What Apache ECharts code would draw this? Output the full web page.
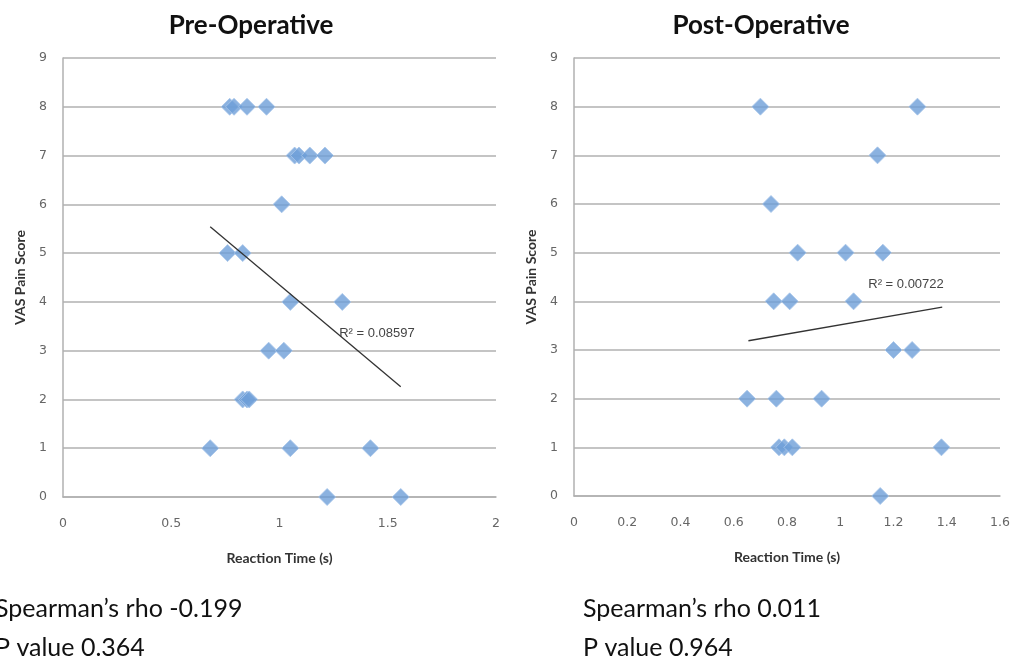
<!DOCTYPE html>
<html>
<head>
<meta charset="utf-8">
<script src="https://cdn.jsdelivr.net/npm/echarts@6/dist/echarts.min.js"></script>
<style>
  html, body { margin: 0; padding: 0; background: #fff; }
  #main { width: 1013px; height: 664px; }
</style>
</head>
<body>
<div id="main"></div>
<script>
// Pre-operative: reaction time (s) vs VAS pain score
const preTime = [0.77, 0.79, 0.85, 0.94, 1.07, 1.09, 1.14, 1.21, 1.01, 0.76, 0.83,
                 1.05, 1.29, 0.95, 1.02, 0.83, 0.85, 0.86, 0.68, 1.05, 1.42, 1.22, 1.56];
const prePain = [8, 8, 8, 8, 7, 7, 7, 7, 6, 5, 5,
                 4, 4, 3, 3, 2, 2, 2, 1, 1, 1, 0, 0];
// Post-operative
const postTime = [0.70, 1.29, 1.14, 0.74, 0.84, 1.02, 1.16, 0.75, 0.81, 1.05,
                  1.20, 1.27, 0.65, 0.76, 0.93, 0.77, 0.79, 0.82, 1.38, 1.15];
const postPain = [8, 8, 7, 6, 5, 5, 5, 4, 4, 4,
                  3, 3, 2, 2, 2, 1, 1, 1, 1, 0];

// trend line endpoints
const preTrend = [[0.68, 5.54], [1.56, 2.26]];
const postTrend = [[0.655, 3.19], [1.383, 3.88]];
const preR2 = 'R² = 0.08597';
const postR2 = 'R² = 0.00722';

const titles = ['Pre-Operative', 'Post-Operative'];
const stats = [['Spearman’s rho -0.199', 'P value 0.364'], ['Spearman’s rho 0.011', 'P value 0.964']];

const pairs = (xs, ys) => xs.map((x, i) => [x, ys[i]]);

const chart = echarts.init(document.getElementById('main'));

const gridColor = '#b0b0b0';
const tickFont = { color: '#666', fontSize: 12.5, fontFamily: 'DejaVu Sans' };
const nameFont = { color: '#333', fontSize: 14, fontWeight: 'bold', fontFamily: 'Lato' };

function xAxis(idx, max, interval) {
  return {
    gridIndex: idx, type: 'value', min: 0, max: max, interval: interval,
    name: 'Reaction Time (s)', nameLocation: 'middle', nameGap: 54, nameTextStyle: nameFont,
    axisLine: { show: true, lineStyle: { color: gridColor, width: 1.5 } },
    axisTick: { show: false },
    axisLabel: Object.assign({ margin: 20 }, tickFont),
    splitLine: { show: false }
  };
}
function yAxis(idx) {
  return {
    gridIndex: idx, type: 'value', min: 0, max: 9, interval: 1,
    name: 'VAS Pain Score', nameLocation: 'middle', nameGap: 36, nameTextStyle: nameFont,
    axisLine: { show: true, lineStyle: { color: gridColor, width: 1.5 } },
    axisTick: { show: false },
    axisLabel: Object.assign({ margin: 16 }, tickFont),
    splitLine: { show: true, lineStyle: { color: gridColor, width: 1.5 } }
  };
}

const dotStyle = { color: '#6e9fd8', borderColor: '#a8c6ea', borderWidth: 1 };
const titleStyle = { fontSize: 26, fontWeight: 'bold', fontFamily: 'Lato', color: '#111' };
const statStyle = { fontSize: 25, fontWeight: 'normal', fontFamily: 'Lato', color: '#111', lineHeight: 39 };
const r2Label = { show: true, color: '#444', fontSize: 13, fontFamily: 'Liberation Sans' };

chart.setOption({
  animation: false,
  title: [
    { text: titles[0], left: 246, top: 8, textAlign: 'center', textStyle: titleStyle },
    { text: titles[1], left: 756, top: 8, textAlign: 'center', textStyle: titleStyle },
    { text: stats[0].join('\n'), left: -5, top: 589, padding: 0, textStyle: statStyle },
    { text: stats[1].join('\n'), left: 583, top: 589, padding: 0, textStyle: statStyle }
  ],
  grid: [
    { left: 63, top: 58, width: 433, height: 439 },
    { left: 574, top: 58, width: 426, height: 438 }
  ],
  xAxis: [xAxis(0, 2, 0.5), xAxis(1, 1.6, 0.2)],
  yAxis: [yAxis(0), yAxis(1)],
  series: [
    { type: 'scatter', xAxisIndex: 0, yAxisIndex: 0, symbol: 'diamond', symbolSize: 17,
      itemStyle: dotStyle, data: pairs(preTime, prePain) },
    { type: 'scatter', xAxisIndex: 1, yAxisIndex: 1, symbol: 'diamond', symbolSize: 17,
      itemStyle: dotStyle, data: pairs(postTime, postPain) },
    { type: 'line', xAxisIndex: 0, yAxisIndex: 0, symbol: 'none',
      lineStyle: { color: '#333', width: 1.3 }, data: preTrend,
      markPoint: { symbolSize: 0, data: [{ coord: [1.45, 3.36] }],
        label: Object.assign({ formatter: preR2 }, r2Label) } },
    { type: 'line', xAxisIndex: 1, yAxisIndex: 1, symbol: 'none',
      lineStyle: { color: '#333', width: 1.3 }, data: postTrend,
      markPoint: { symbolSize: 0, data: [{ coord: [1.247, 4.34] }],
        label: Object.assign({ formatter: postR2 }, r2Label) } }
  ]
});

window.addEventListener('resize', function () { chart.resize(); });
</script>
</body>
</html>
